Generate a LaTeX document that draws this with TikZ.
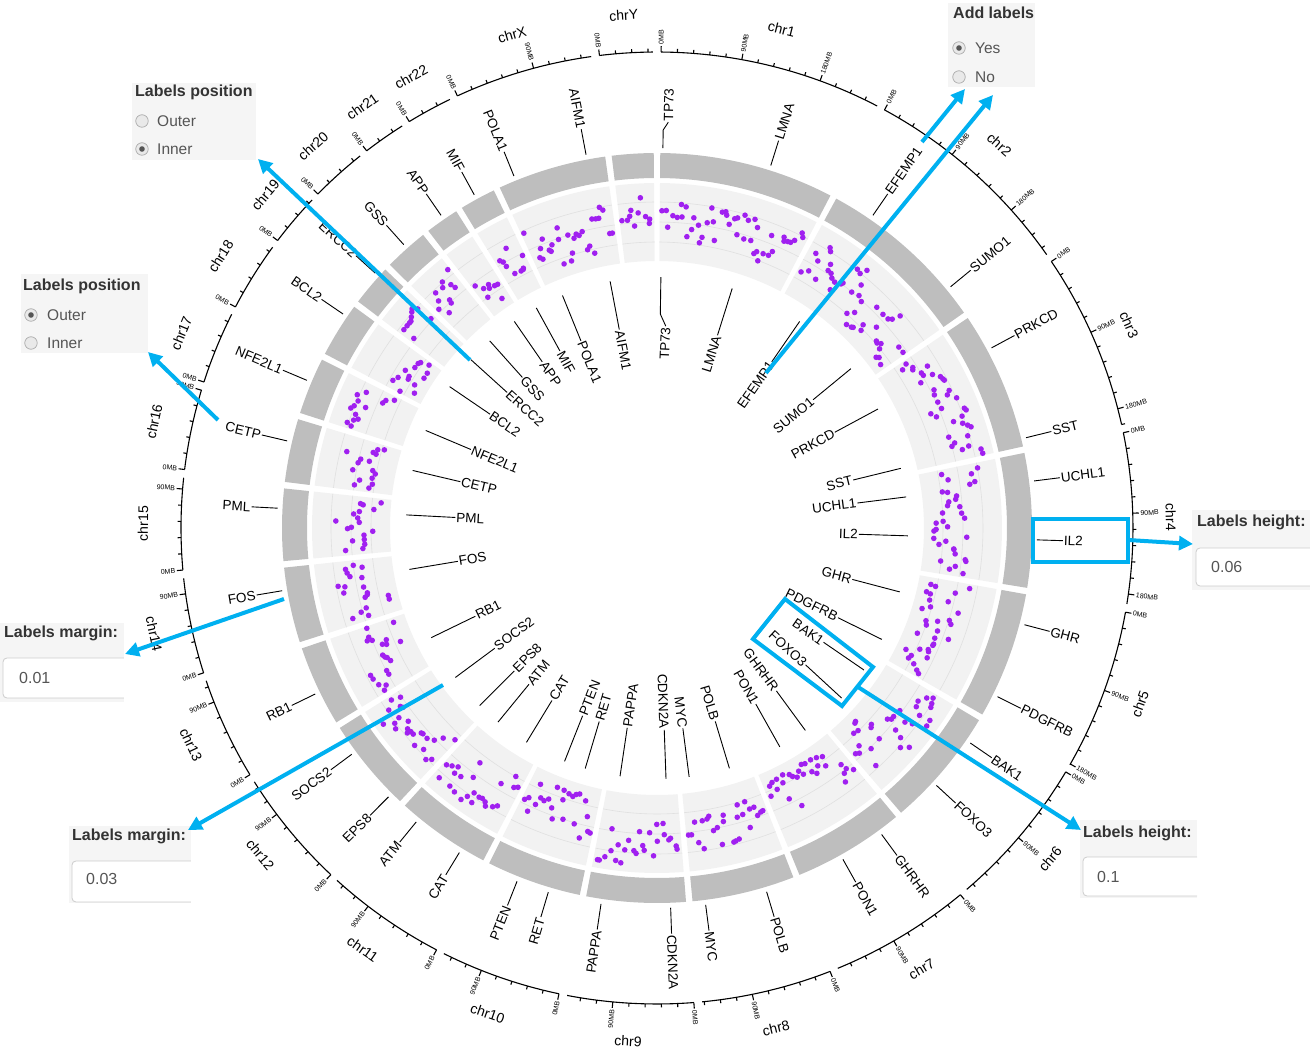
\documentclass[tikz,border=0pt]{standalone}
\usepackage{fontspec}
\setmainfont{Liberation Sans}
\usetikzlibrary{arrows.meta}
\definecolor{ideo}{HTML}{BEBEBE}
\definecolor{trackbg}{HTML}{F2F2F2}
\definecolor{gridln}{HTML}{E0E0E0}
\definecolor{snp}{HTML}{A020F0}
\definecolor{hl}{HTML}{00B0F0}
\definecolor{panelfill}{HTML}{F5F5F5}
\definecolor{paneltext}{HTML}{333333}
\definecolor{opttext}{HTML}{555555}
\definecolor{radioedge}{HTML}{ABABAB}
\definecolor{radiofill}{HTML}{E9E9E9}
\definecolor{radiodot}{HTML}{555555}
\definecolor{inputedge}{HTML}{CCCCCC}
\tikzset{
  ideoseg/.style={fill=ideo},
  trackseg/.style={fill=trackbg},
  gridarc/.style={draw=gridln, line width=0.6pt},
  axisarc/.style={draw=black, line width=1.1pt},
  lblconn/.style={draw=black, line width=0.9pt},
  genelab/.style={font=\fontsize{13.5}{16}\selectfont, inner sep=1pt},
  chrname/.style={font=\fontsize{14}{16}\selectfont, inner sep=0pt},
  tickname/.style={font=\fontsize{7}{8}\selectfont, inner sep=0.5pt},
  snpdot/.style={fill=snp},
  bluebox/.style={draw=hl, line width=4pt},
  bluearrow/.style={draw=hl, line width=4pt, -{Triangle[length=14pt,width=14pt]}},
  panelbox/.style={fill=panelfill},
  paneltitle/.style={font=\bfseries\fontsize{16}{18}\selectfont, text=paneltext, anchor=west, inner sep=0pt},
  paneloption/.style={font=\fontsize{15.5}{18}\selectfont, text=opttext, anchor=west, inner sep=0pt},
  radiobtn/.style={circle, draw=radioedge, fill=radiofill, line width=0.7pt, minimum size=12.5pt, inner sep=0pt},
  radioon/.style={radiobtn, path picture={\fill[radiodot] (path picture bounding box.center) circle (2.8pt);}},
  inputbox/.style={draw=inputedge, fill=white, line width=0.8pt, rounded corners=4pt},
  inputtext/.style={font=\fontsize{16}{18}\selectfont, text=opttext, anchor=west, inner sep=0pt},
}

\begin{document}
\begin{tikzpicture}[x=1pt, y=1pt]
  \useasboundingbox (-657,-532) rectangle (653,528);
  \pgfmathsetseed{20}

  % sectors: name / start angle (clockwise from top) / span / length in MB
  \foreach \nm/\cst/\csp/\len in {1/0.500/27.053/249, 2/28.553/26.397/243, 3/55.950/21.493/198,
      4/78.443/20.747/191, 5/100.190/19.637/180, 6/120.827/18.573/171, 7/140.400/17.273/159,
      8/158.673/15.886/146, 9/175.559/15.327/141, 10/191.886/14.710/135, 11/207.596/14.654/135,
      12/223.250/14.528/133, 13/238.778/12.500/115, 14/252.278/11.652/107, 15/264.930/11.129/102,
      16/277.058/9.807/90, 17/287.865/8.813/81, 18/297.678/8.475/78, 19/307.153/6.418/59,
      20/314.571/6.841/63, 21/322.412/5.224/48, 22/328.636/5.568/51, X/335.204/16.853/155,
      Y/353.057/6.444/59}{
    \pgfmathsetmacro{\sa}{90-\cst}
    \pgfmathsetmacro{\sb}{90-\cst-\csp}
    \fill[ideoseg] (\sa:350pt) arc[start angle=\sa, end angle=\sb, radius=350pt]
      -- (\sb:375pt) arc[start angle=\sb, end angle=\sa, radius=375pt] -- cycle;
    \fill[trackseg] (\sa:267pt) arc[start angle=\sa, end angle=\sb, radius=267pt]
      -- (\sb:345pt) arc[start angle=\sb, end angle=\sa, radius=345pt] -- cycle;
    \foreach \rr in {286,306,326}
      \draw[gridarc] (\sa:\rr pt) arc[start angle=\sa, end angle=\sb, radius=\rr pt];
    % points
    \xdef\walk{307}
    \pgfmathtruncatemacro{\nd}{\len/5.5}
    \foreach \j in {1,...,\nd}{
      \pgfmathsetmacro{\da}{\sa-0.35-(\j-0.5)/\nd*(\csp-0.7)+(rnd-0.5)*0.6}
      \pgfmathsetmacro{\base}{max(288,min(326,\walk+(rnd-0.5)*14))}
      \xdef\walk{\base}
      \pgfmathsetmacro{\dr}{max(277,min(337,\base+(rnd-0.5)*34))}
      \fill[snpdot] (\da:\dr pt) circle (2.8pt);
    }
    % axis
    \draw[axisarc] (\sa:476pt) arc[start angle=\sa, end angle=\sb, radius=476pt];
    \foreach \m in {0,18,...,\len}{
      \pgfmathsetmacro{\tk}{\cst+\m*0.108539}
      \pgfmathtruncatemacro{\maj}{mod(\m,90)==0 ? 1 : 0}
      \ifnum\maj=1
        \draw[axisarc] (90-\tk:476pt) -- (90-\tk:482pt);
        \ifdim\tk pt<180pt
          \node[tickname, anchor=west, rotate=90-\tk] (tk\nm-\m) at (90-\tk:483pt) {\m MB};
        \else
          \node[tickname, anchor=east, rotate=270-\tk] (tk\nm-\m) at (90-\tk:483pt) {\m MB};
        \fi
      \else
        \draw[axisarc] (90-\tk:476pt) -- (90-\tk:479.5pt);
      \fi
    }
    \pgfmathsetmacro{\cmid}{\cst+\csp/2}
    \pgfmathsetmacro{\rot}{(\cmid>90 && \cmid<270) ? 180-\cmid : -\cmid}
    \node[chrname, rotate=\rot] (chr\nm) at (90-\cmid:514pt) {chr\nm};
  }

  % gene labels: name / gene angle / outer label angle / inner label angle
  \foreach \g/\tgn/\tou/\tin in {TP73/0.89/1.6/2.5, LMNA/17.43/17.43/17.43, EFEMP1/34.63/34.63/34.63,
      SUMO1/50.59/50.59/50.59, PRKCD/61.70/61.70/61.70, SST/76.25/76.25/76.25, UCHL1/82.89/82.89/82.89,
      IL2/91.79/91.79/91.79, GHR/104.75/104.75/104.75, PDGFRB/116.36/116.36/116.36,
      BAK1/124.46/124.46/124.46, FOXO3/132.65/132.65/132.65, GHRHR/143.76/143.76/143.76,
      PON1/150.70/150.70/150.70, POLB/163.23/163.23/163.23, MYC/172.64/172.64/172.64,
      CDKN2A/177.94/177.94/177.94, PAPPA/188.47/188.47/188.47, RET/196.62/196.62/196.62,
      PTEN/201.61/201.61/201.61, CAT/211.34/211.34/211.34, ATM/219.32/219.32/219.32,
      EPS8/224.96/224.96/224.96, SOCS2/233.45/233.45/233.45, RB1/244.09/244.09/244.09,
      FOS/260.50/260.50/260.50, PML/272.99/272.99/272.99, CETP/283.25/283.25/283.25,
      NFE2L1/292.87/292.87/292.87, BCL2/304.28/304.28/304.28, ERCC2/312.13/312.13/312.13,
      GSS/318.21/318.21/318.21, APP/325.37/325.37/325.37, MIF/331.26/331.26/331.26,
      POLA1/337.88/337.88/337.88, AIFM1/349.24/349.24/349.24}{
    \coordinate (oa\g) at (90-\tgn:380pt);
    \coordinate (ob\g) at (90-\tgn:398pt);
    \coordinate (oc\g) at (90-\tou:406pt);
    \draw[lblconn] (oa\g) -- (ob\g) -- (oc\g);
    \coordinate (ia\g) at (90-\tgn:251pt);
    \coordinate (ib\g) at (90-\tgn:214pt);
    \coordinate (ic\g) at (90-\tin:202pt);
    \draw[lblconn] (ia\g) -- (ib\g) -- (ic\g);
    \ifdim\tou pt<180pt
      \node[genelab, anchor=west, rotate=90-\tou] (ol\g) at (oc\g) {\g};
      \node[genelab, anchor=east, rotate=90-\tin] (il\g) at (ic\g) {\g};
    \else
      \node[genelab, anchor=east, rotate=270-\tou] (ol\g) at (oc\g) {\g};
      \node[genelab, anchor=west, rotate=270-\tin] (il\g) at (ic\g) {\g};
    \fi
  }

  % control panels
  \fill[panelbox] (-525,368) rectangle (-401,445);
  \node[paneltitle] (postitle1) at (-522,436) {Labels position};
  \node[radiobtn] (posouter1) at (-515,407) {};
  \node[radioon] (posinner1) at (-515,379) {};
  \node[paneloption] (posoutertxt1) at (-500,407) {Outer};
  \node[paneloption] (posinnertxt1) at (-500,379) {Inner};

  \fill[panelbox] (-636,175) rectangle (-509,254);
  \node[paneltitle] (postitle2) at (-634,242) {Labels position};
  \node[radioon] (posouter2) at (-626,213) {};
  \node[radiobtn] (posinner2) at (-626,185) {};
  \node[paneloption] (posoutertxt2) at (-610,213) {Outer};
  \node[paneloption] (posinnertxt2) at (-610,185) {Inner};

  \fill[panelbox] (291,441) rectangle (378,525);
  \node[paneltitle] (addtitle) at (296,515) {Add labels};
  \node[radioon] (addyes) at (302,480) {};
  \node[radiobtn] (addno) at (302,451) {};
  \node[paneloption] (addyestxt) at (318,480) {Yes};
  \node[paneloption] (addnotxt) at (318,451) {No};

  \fill[panelbox] (535,-62) rectangle (653,18);
  \node[paneltitle] (htitle1) at (540,6) {Labels height:};
  \begin{scope}
    \clip (535,-62) rectangle (653,18);
    \draw[inputbox] (539,-20) rectangle (662,-58);
  \end{scope}
  \node[inputtext] (hval1) at (554,-39) {0.06};

  \fill[panelbox] (423,-370) rectangle (540,-292);
  \node[paneltitle] (htitle2) at (426,-305) {Labels height:};
  \begin{scope}
    \clip (423,-370) rectangle (540,-292);
    \draw[inputbox] (426,-329) rectangle (548,-368);
  \end{scope}
  \node[inputtext] (hval2) at (440,-349) {0.1};

  \fill[panelbox] (-657,-174) rectangle (-533,-95);
  \node[paneltitle] (mtitle1) at (-653,-105) {Labels margin:};
  \begin{scope}
    \clip (-657,-174) rectangle (-533,-95);
    \draw[inputbox] (-654,-130) rectangle (-525,-170);
  \end{scope}
  \node[inputtext] (mval1) at (-638,-150) {0.01};

  \fill[panelbox] (-588,-375) rectangle (-466,-298);
  \node[paneltitle] (mtitle2) at (-585,-308) {Labels margin:};
  \begin{scope}
    \clip (-588,-375) rectangle (-466,-298);
    \draw[inputbox] (-585,-333) rectangle (-458,-374);
  \end{scope}
  \node[inputtext] (mval2) at (-571,-351) {0.03};

  % highlights
  \draw[bluebox] (376,9) rectangle (471,-34);
  \draw[bluebox] (128,-71) -- (216,-139) -- (185,-178) -- (96,-111) -- cycle;

  \coordinate (cetpfrom) at (-439,108);   \coordinate (cetpto) at (-509,176);
  \coordinate (erccfrom) at (-187,168);   \coordinate (erccto) at (-399,369);
  \coordinate (efoutfrom) at (265,386);   \coordinate (efoutto) at (308,439);
  \coordinate (efinfrom) at (109,155);    \coordinate (efinto) at (336,433);
  \coordinate (ilfrom) at (471,-12);      \coordinate (ilto) at (536,-16);
  \coordinate (foxofrom) at (201,-159);   \coordinate (foxoto) at (424,-302);
  \coordinate (fosfrom) at (-373,-71);    \coordinate (fosto) at (-532,-126);
  \coordinate (socsfrom) at (-214,-157);  \coordinate (socsto) at (-469,-302);
  \draw[bluearrow] (cetpfrom) -- (cetpto);
  \draw[bluearrow] (erccfrom) -- (erccto);
  \draw[bluearrow] (efoutfrom) -- (efoutto);
  \draw[bluearrow] (efinfrom) -- (efinto);
  \draw[bluearrow] (ilfrom) -- (ilto);
  \draw[bluearrow] (foxofrom) -- (foxoto);
  \draw[bluearrow] (fosfrom) -- (fosto);
  \draw[bluearrow] (socsfrom) -- (socsto);
\end{tikzpicture}
\end{document}
